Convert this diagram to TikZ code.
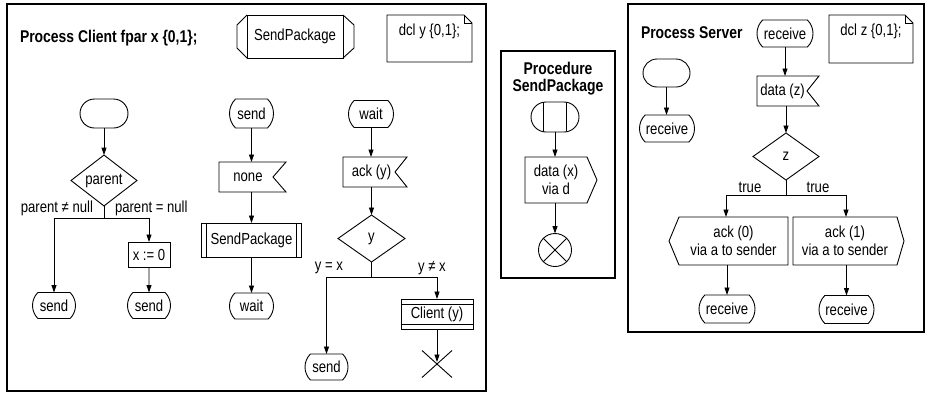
\documentclass[tikz,border=0pt]{standalone}
\usepackage{fontspec}
\setmainfont{Liberation Sans}[FakeStretch=0.82]
\usetikzlibrary{shapes.geometric,shapes.misc,arrows.meta,calc}

\newcommand\sdlinput[2]{\draw[sym] (#1.north west) -- (#1.north east) -- ([xshift=-#2pt]#1.east) -- (#1.south east) -- (#1.south west) -- cycle;}
\newcommand\sdloutright[2]{\draw[sym] (#1.north west) -- (#1.north east) -- ([xshift=#2pt]#1.east) -- (#1.south east) -- (#1.south west) -- cycle;}
\newcommand\sdloutleft[2]{\draw[sym] (#1.north east) -- (#1.north west) -- ([xshift=-#2pt]#1.west) -- (#1.south west) -- (#1.south east) -- cycle;}
\newcommand\sdltextsym[1]{\draw[sym] (#1.north west) -- ([xshift=-8pt]#1.north east) -- ([yshift=-8pt]#1.north east) -- (#1.south east) -- (#1.south west) -- cycle;
  \draw[sym] ([xshift=-8pt]#1.north east) |- ([yshift=-8pt]#1.north east);}
\newcommand\padr[1]{\kern#1pt\hbox{}}

\begin{document}
\begin{tikzpicture}[x=1pt,y=-1pt,
  every node/.style={font=\fontsize{16}{17.5}\selectfont, inner sep=0pt, outer sep=0pt},
  sym/.style={draw, line width=0.9pt},
  frame/.style={draw, line width=1.8pt},
  arr/.style={line width=0.9pt,-{Triangle[length=7.5pt,width=5pt]}},
  ln/.style={line width=0.9pt},
  titletext/.style={font=\bfseries\fontsize{17}{17}\selectfont},
  startsym/.style={sym, rounded rectangle, minimum width=48pt, minimum height=29pt},
  statesym/.style={sym, rounded rectangle, rounded rectangle arc length=90, minimum height=26pt},
  decision/.style={sym, diamond, minimum width=66pt, minimum height=47pt},
  taskbox/.style={sym, rectangle},
  insym/.style={rectangle, minimum height=30pt},
  outbody/.style={rectangle, align=center},
  textsym/.style={rectangle, text height=12pt, text depth=19pt},
  proccall/.style={sym, rectangle, minimum width=100pt, minimum height=34pt,
    path picture={\draw[line width=0.9pt] ([xshift=5pt]path picture bounding box.north west) -- ([xshift=5pt]path picture bounding box.south west);
                  \draw[line width=0.9pt] ([xshift=-5pt]path picture bounding box.north east) -- ([xshift=-5pt]path picture bounding box.south east);}},
  createsym/.style={sym, rectangle, minimum width=72pt, minimum height=30pt,
    path picture={\draw[line width=0.9pt] ([yshift=-5pt]path picture bounding box.north west) -- ([yshift=-5pt]path picture bounding box.north east);
                  \draw[line width=0.9pt] ([yshift=5pt]path picture bounding box.south west) -- ([yshift=5pt]path picture bounding box.south east);}},
  procstart/.style={startsym, minimum height=30pt,
    path picture={\draw[line width=0.9pt] ([xshift=-11.7pt]path picture bounding box.north) -- ([xshift=-11.7pt]path picture bounding box.south);
                  \draw[line width=0.9pt] ([xshift=11.7pt]path picture bounding box.north) -- ([xshift=11.7pt]path picture bounding box.south);}},
  procstop/.style={sym, circle, minimum size=33pt,
    path picture={\draw[line width=0.9pt] (path picture bounding box.north west) -- (path picture bounding box.south east);
                  \draw[line width=0.9pt] (path picture bounding box.north east) -- (path picture bounding box.south west);}}
]
\fill[white] (0,0) rectangle (926,394);
\useasboundingbox (0,0) rectangle (926,394);

% ---------------- frames
\node[frame, minimum width=479pt, minimum height=387pt] (clientframe) at (246.5,197.5) {};
\node[frame, minimum width=114pt, minimum height=227pt] (procframe) at (558,164.5) {};
\node[frame, minimum width=296pt, minimum height=328pt] (serverframe) at (776,168) {};

% ---------------- Process Client
\node[titletext, anchor=west] (ctitle) at (20,38) {Process Client fpar x \{0,1\};};
\node[sym, minimum width=96pt, minimum height=43pt] (spref) at (295,36.5) {SendPackage};
\draw[sym] (spref.north west) -- ++(-10,10) -- ++(0,23) -- (spref.south west);
\draw[sym] (spref.north east) -- ++(11,10) -- ++(0,23) -- (spref.south east);
\node[textsym, minimum width=85pt, minimum height=47pt] (dcly) at (429.5,38.5) {dcl y \{0,1\};};
\sdltextsym{dcly}

% column 1
\node[startsym] (cstart) at (104,113.5) {};
\node[decision] (parent) at (104,180.5) {parent};
\coordinate (s1) at (104,218);
\node[anchor=east] (lpne) at (93,208) {parent ≠ null};
\node[anchor=west] (lpeq) at (115,208) {parent = null};
\node[taskbox, minimum width=42pt, minimum height=25pt] (x0) at (149,254.5) {x := 0};
\node[statesym, minimum width=43pt] (send1) at (54,305.5) {send};
\node[statesym, minimum width=43pt] (send2) at (149,305.5) {send};
\draw[arr] (cstart) -- (parent);
\draw[ln] (parent.south) -- (s1);
\draw[arr] (s1) -| (send1.north);
\draw[arr] (s1) -| (x0.north);
\draw[arr] (x0) -- (send2);

% column 2
\node[statesym, minimum width=44pt, minimum height=29pt] (send3) at (251.5,113.5) {send};
\node[insym, minimum width=67pt] (none) at (252.5,177) {none\padr{9}};
\sdlinput{none}{13}
\node[proccall] (spcall) at (251.5,240) {SendPackage};
\node[statesym, minimum width=44pt] (wait1) at (251.5,306) {wait};
\draw[arr] (send3.south) -- (send3.south |- none.north);
\draw[arr] (none.south -| spcall.north) -- (spcall.north);
\draw[arr] (spcall) -- (wait1);

% column 3
\node[statesym, minimum width=45pt, minimum height=27pt] (wait2) at (371,114) {wait};
\node[insym, minimum width=64pt] (acky) at (375,172) {ack (y)\padr{7}};
\sdlinput{acky}{12}
\node[decision, minimum width=67pt] (ydec) at (371.5,238.5) {y};
\coordinate (s3) at (371.5,277);
\node (lyx) at (329,268) {y = x};
\node (lynx) at (432,268) {y ≠ x};
\node[statesym, minimum width=43pt] (send4) at (326.5,367) {send};
\node[createsym] (cly) at (437,314) {Client (y)};
\coordinate (xstop) at (437,364);
\draw[sym] ([shift={(-15,-13.5)}]xstop) -- ([shift={(15,13.5)}]xstop);
\draw[sym] ([shift={(15,-13.5)}]xstop) -- ([shift={(-15,13.5)}]xstop);
\draw[arr] (wait2.south) -- (wait2.south |- acky.north);
\draw[arr] (acky.south -| ydec.north) -- (ydec.north);
\draw[ln] (ydec.south) -- (s3);
\draw[arr] (s3) -| (send4.north);
\draw[arr] (s3) -| (cly.north);
\draw[arr, shorten >=2pt] (cly.south) -- (xstop);

% ---------------- Procedure SendPackage
\node[titletext, align=center] (ptitle) at (558,78.5) {Procedure\\SendPackage};
\node[procstart] (pstart) at (555,117) {};
\node[outbody, minimum width=62pt, minimum height=46pt] (datax) at (556,180) {data (x)\\via d};
\sdloutright{datax}{10}
\node[procstop] (pstop) at (555,250) {};
\draw[arr] (pstart.south) -- (pstart.south |- datax.north);
\draw[arr] (datax.south -| pstop.north) -- (pstop.north);

% ---------------- Process Server
\node[titletext, anchor=west] (stitle) at (641,33) {Process Server};
\node[statesym, minimum width=56pt, minimum height=27pt] (recv0) at (785,33.5) {receive};
\node[textsym, minimum width=84pt, minimum height=48pt] (dclz) at (871,39) {dcl z \{0,1\};};
\sdltextsym{dclz}
\node[startsym, minimum width=47pt, minimum height=28pt] (sstart) at (666.5,73) {};
\node[statesym, minimum width=55pt, minimum height=27pt] (recv1) at (667,128.5) {receive};
\node[insym, minimum width=62pt] (dataz) at (788,91) {data (z)\padr{11}};
\sdlinput{dataz}{12}
\node[decision] (zdec) at (786,156.5) {z};
\coordinate (s2) at (786,195);
\node (t1) at (750,187) {true};
\node (t2) at (818,187) {true};
\node[outbody, minimum width=109pt, minimum height=48pt] (ack0) at (733.5,241) {ack (0)\\via a to sender};
\sdloutleft{ack0}{10}
\node[outbody, minimum width=104pt, minimum height=48pt] (ack1) at (845,241) {ack (1)\\via a to sender};
\sdloutright{ack1}{7}
\node[statesym, minimum width=56pt, minimum height=28pt] (recv2) at (727,309) {receive};
\node[statesym, minimum width=55pt, minimum height=28pt] (recv3) at (846.5,309.5) {receive};
\draw[arr] (sstart.south) -- (sstart.south |- recv1.north);
\draw[arr] (recv0.south) -- (recv0.south |- dataz.north);
\draw[arr] (zdec.north |- dataz.south) -- (zdec.north);
\draw[ln] (zdec.south) -- (s2);
\draw[arr] (s2) -| ([xshift=-7.5pt]ack0.north);
\draw[arr] (s2) -| ([xshift=1pt]ack1.north);
\draw[arr] (recv2.north |- ack0.south) -- (recv2.north);
\draw[arr] (recv3.north |- ack1.south) -- (recv3.north);
\end{tikzpicture}
\end{document}
